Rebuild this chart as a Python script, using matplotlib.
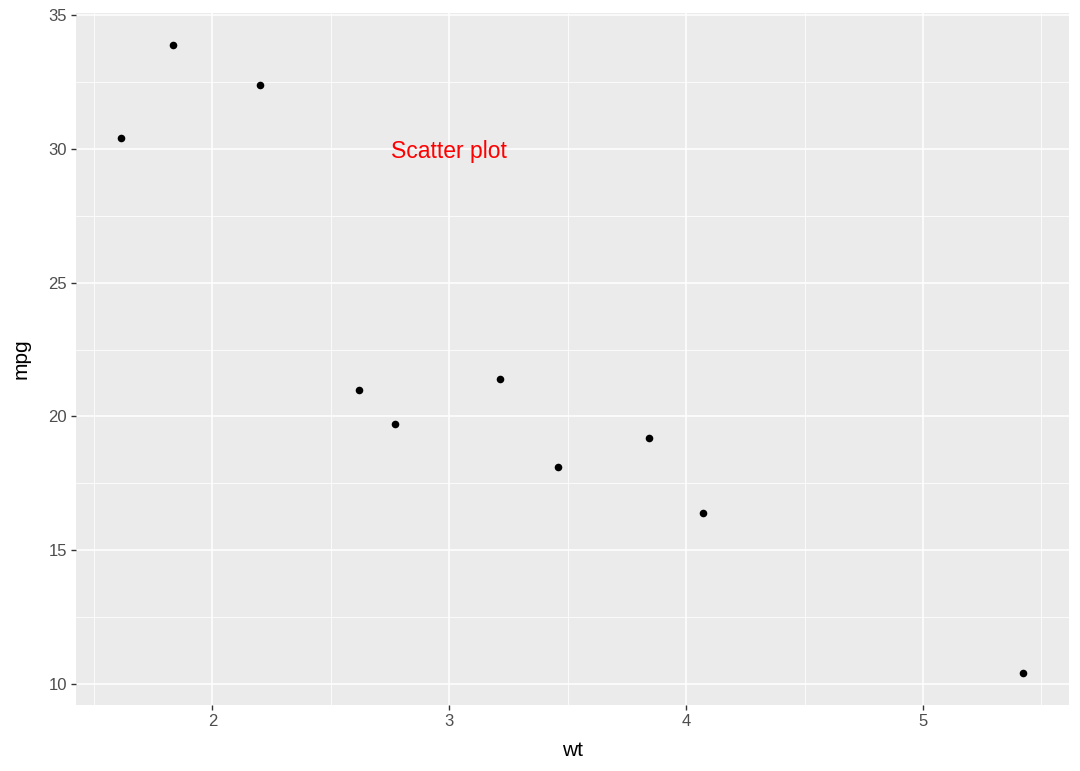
import matplotlib
matplotlib.use("Agg")
import matplotlib.pyplot as plt
from matplotlib.ticker import MultipleLocator

# mtcars subset
wt = [2.620, 2.770, 3.215, 3.460, 3.845, 4.070, 5.424, 2.200, 1.615, 1.835]
mpg = [21.0, 19.7, 21.4, 18.1, 19.2, 16.4, 10.4, 32.4, 30.4, 33.9]

plt.rcParams['font.family'] = ['Liberation Sans', 'DejaVu Sans']

fig = plt.figure(figsize=(10.8, 7.71), dpi=100)
ax = fig.add_axes([0.0704, 0.086, 0.9190, 0.897])
ax.set_facecolor("#EBEBEB")

ax.scatter(wt, mpg, s=30, color="black", zorder=3, linewidths=0)
ax.text(3, 30, "Scatter plot", color="red", fontsize=16.5, ha="center",
        va="center_baseline")

# ggplot default 5% expansion
xr = max(wt) - min(wt)
yr = max(mpg) - min(mpg)
ax.set_xlim(min(wt) - 0.05 * xr, max(wt) + 0.05 * xr)
ax.set_ylim(min(mpg) - 0.05 * yr, max(mpg) + 0.05 * yr)

ax.xaxis.set_major_locator(MultipleLocator(1))
ax.xaxis.set_minor_locator(MultipleLocator(0.5))
ax.yaxis.set_major_locator(MultipleLocator(5))
ax.yaxis.set_minor_locator(MultipleLocator(2.5))

ax.grid(which="major", color="white", linewidth=1.1)
ax.grid(which="minor", color="white", linewidth=0.55)
ax.set_axisbelow(True)
for s in ax.spines.values():
    s.set_visible(False)

ax.tick_params(which="major", length=3.5, width=1, color="#333333",
               labelcolor="#4D4D4D", labelsize=12, pad=3)
ax.tick_params(which="minor", length=0)

ax.set_xlabel("wt", fontsize=15, color="black", labelpad=9)
ax.set_ylabel("mpg", fontsize=15, color="black", labelpad=13)

fig.savefig("out.png", dpi=100)
